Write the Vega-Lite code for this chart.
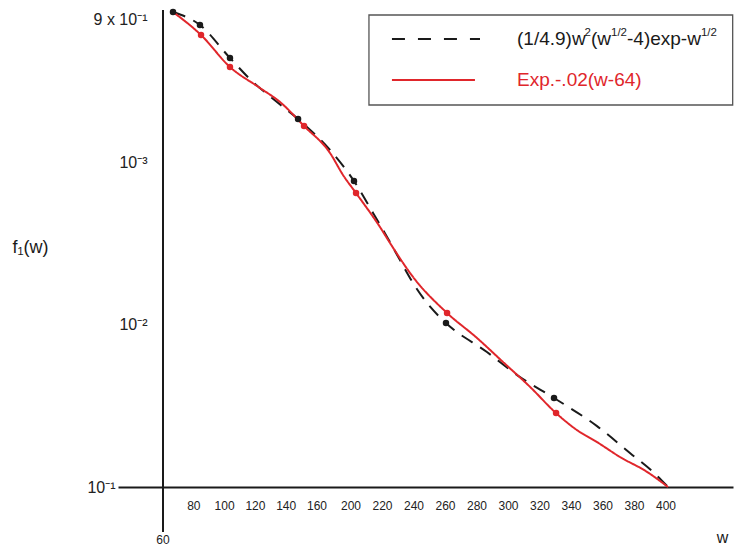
{
  "$schema": "https://vega.github.io/schema/vega-lite/v6.json",
  "width": 615,
  "height": 477,
  "autosize": {"type": "none"},
  "padding": {"left": 118, "top": 10, "right": 2, "bottom": 61},
  "background": "white",
  "config": {"view": {"stroke": null}, "font": "Liberation Sans", "axis": {"grid": false, "labelOverlap": false, "labelFlush": false, "labelBound": false}},
  "datasets": {
    "curves": [
      {"series": "dashed", "w": 66.5, "f": 0.8377, "dot": true},
      {"series": "dashed", "w": 84.0, "f": 0.6968, "dot": true},
      {"series": "dashed", "w": 103.5, "f": 0.4365, "dot": true},
      {"series": "dashed", "w": 118.4, "f": 0.3107, "dot": false},
      {"series": "dashed", "w": 130.8, "f": 0.2476, "dot": false},
      {"series": "dashed", "w": 147.7, "f": 0.1839, "dot": true},
      {"series": "dashed", "w": 175.3, "f": 0.1185, "dot": false},
      {"series": "dashed", "w": 201.9, "f": 0.0764, "dot": true},
      {"series": "dashed", "w": 214.0, "f": 0.0486, "dot": false},
      {"series": "dashed", "w": 222.9, "f": 0.0346, "dot": false},
      {"series": "dashed", "w": 231.1, "f": 0.0249, "dot": false},
      {"series": "dashed", "w": 239.4, "f": 0.0180, "dot": false},
      {"series": "dashed", "w": 248.3, "f": 0.01356, "dot": false},
      {"series": "dashed", "w": 260.3, "f": 0.01021, "dot": true},
      {"series": "dashed", "w": 286.3, "f": 0.00677, "dot": false},
      {"series": "dashed", "w": 307.3, "f": 0.00475, "dot": false},
      {"series": "dashed", "w": 328.9, "f": 0.00353, "dot": true},
      {"series": "dashed", "w": 356.2, "f": 0.00237, "dot": false},
      {"series": "dashed", "w": 377.1, "f": 0.00162, "dot": false},
      {"series": "dashed", "w": 391.7, "f": 0.00124, "dot": false},
      {"series": "dashed", "w": 401.3, "f": 0.001, "dot": false},
      {"series": "exp", "w": 66.5, "f": 0.8377, "dot": false},
      {"series": "exp", "w": 84.7, "f": 0.6046, "dot": true},
      {"series": "exp", "w": 103.5, "f": 0.3842, "dot": true},
      {"series": "exp", "w": 123.0, "f": 0.2854, "dot": false},
      {"series": "exp", "w": 136.0, "f": 0.2340, "dot": false},
      {"series": "exp", "w": 151.6, "f": 0.1665, "dot": true},
      {"series": "exp", "w": 175.3, "f": 0.1136, "dot": false},
      {"series": "exp", "w": 190.6, "f": 0.0832, "dot": false},
      {"series": "exp", "w": 203.2, "f": 0.0644, "dot": true},
      {"series": "exp", "w": 218.4, "f": 0.0398, "dot": false},
      {"series": "exp", "w": 224.8, "f": 0.0317, "dot": false},
      {"series": "exp", "w": 239.4, "f": 0.0196, "dot": false},
      {"series": "exp", "w": 261.0, "f": 0.01177, "dot": true},
      {"series": "exp", "w": 280.0, "f": 0.00826, "dot": false},
      {"series": "exp", "w": 296.5, "f": 0.00588, "dot": false},
      {"series": "exp", "w": 313.7, "f": 0.00413, "dot": false},
      {"series": "exp", "w": 330.2, "f": 0.00285, "dot": true},
      {"series": "exp", "w": 343.5, "f": 0.00224, "dot": false},
      {"series": "exp", "w": 356.2, "f": 0.00189, "dot": false},
      {"series": "exp", "w": 370.8, "f": 0.00153, "dot": false},
      {"series": "exp", "w": 387.9, "f": 0.00124, "dot": false},
      {"series": "exp", "w": 401.3, "f": 0.001, "dot": false}
    ],
    "xticks": [
      {"w": 80}, {"w": 100}, {"w": 120}, {"w": 140}, {"w": 160}, {"w": 200}, {"w": 220}, {"w": 240},
      {"w": 260}, {"w": 280}, {"w": 300}, {"w": 320}, {"w": 340}, {"w": 360}, {"w": 380}, {"w": 400}
    ],
    "one": [{}]
  },
  "layer": [
    {
      "data": {"name": "curves"},
      "mark": {"type": "line", "interpolate": "monotone", "strokeWidth": 2},
      "encoding": {
        "x": {
          "field": "w", "type": "quantitative",
          "scale": {"domain": [30.8, 60, 160, 200, 400, 442.5], "range": [0, 45, 199, 233, 548, 615], "nice": false, "zero": false},
          "axis": {
            "title": "w", "titleX": 604, "titleY": 50, "titleAlign": "center", "titleBaseline": "middle",
            "titleFontSize": 16, "titleFontWeight": "normal", "titleColor": "#1a1a1a", "titleFont": "Liberation Sans",
            "labels": false,
            "domain": true, "domainColor": "#1a1a1a", "domainWidth": 2,
            "ticks": false, "tickSize": 0
          }
        },
        "y": {
          "field": "f", "type": "quantitative",
          "scale": {"type": "log", "domain": [0.001, 0.8619], "nice": false},
          "axis": {
            "title": "f₁(w)", "titleAngle": 0, "titleX": -106, "titleY": 237, "titleAlign": "left", "titleBaseline": "middle",
            "titleFontSize": 18, "titleFontWeight": "normal", "titleColor": "#1a1a1a", "titleFont": "Liberation Sans",
            "values": [0.75, 0.1, 0.01, 0.001],
            "labelExpr": "datum.value > 0.5 ? '9 x 10⁻¹' : datum.value > 0.05 ? '10⁻³' : datum.value > 0.005 ? '10⁻²' : '10⁻¹'",
            "domain": false, "ticks": false, "tickSize": 0,
            "labelFontSize": 16, "labelColor": "#222", "labelFont": "Liberation Sans",
            "labelAlign": "right", "labelBaseline": "middle",
            "labelPadding": {"condition": {"test": "datum.value < 0.002", "value": 3}, "value": -29},
            "labelOverlap": false, "labelFlush": false, "labelBound": false
          }
        },
        "detail": {"field": "series"},
        "color": {"field": "series", "type": "nominal", "scale": {"domain": ["dashed", "exp"], "range": ["#1a1a1a", "#e0262b"]}, "legend": null},
        "strokeDash": {"field": "series", "type": "nominal", "scale": {"domain": ["dashed", "exp"], "range": [[13, 9], [1, 0]]}, "legend": null},
        "order": {"field": "w"}
      }
    },
    {
      "data": {"name": "curves"},
      "transform": [{"filter": "datum.dot"}],
      "mark": {"type": "circle", "size": 42, "opacity": 1},
      "encoding": {
        "x": {"field": "w", "type": "quantitative"},
        "y": {"field": "f", "type": "quantitative"},
        "color": {"field": "series", "type": "nominal", "legend": null}
      }
    },
    {
      "data": {"name": "xticks"},
      "mark": {"type": "text", "align": "center", "baseline": "middle", "fontSize": 12, "font": "Liberation Sans", "color": "#222"},
      "encoding": {
        "x": {"field": "w", "type": "quantitative"},
        "y": {"datum": 0.000763},
        "text": {"field": "w", "type": "quantitative"}
      }
    },
    {
      "data": {"name": "one"},
      "mark": {"type": "text", "align": "center", "baseline": "middle", "fontSize": 12, "font": "Liberation Sans", "color": "#222"},
      "encoding": {
        "x": {"datum": 60},
        "y": {"datum": 0.000472},
        "text": {"value": "60"}
      }
    },
    {
      "data": {"name": "one"},
      "mark": {"type": "rule", "color": "#1a1a1a", "strokeWidth": 2},
      "encoding": {
        "x": {"datum": 60},
        "y": {"datum": 0.8619},
        "y2": {"datum": 0.000528}
      }
    },
    {
      "data": {"name": "one"},
      "mark": {"type": "rect", "fill": "white", "stroke": "#555", "strokeWidth": 1.3},
      "encoding": {
        "x": {"datum": 211.4},
        "x2": {"datum": 442.3},
        "y": {"datum": 0.8027},
        "y2": {"datum": 0.2243}
      }
    },
    {
      "data": {"name": "one"},
      "mark": {"type": "rule", "color": "#1a1a1a", "strokeWidth": 2, "strokeDash": [13, 13]},
      "encoding": {
        "x": {"datum": 226.0},
        "x2": {"datum": 281.9},
        "y": {"datum": 0.5712}
      }
    },
    {
      "data": {"name": "one"},
      "mark": {"type": "rule", "color": "#e0262b", "strokeWidth": 2},
      "encoding": {
        "x": {"datum": 226.0},
        "x2": {"datum": 278.7},
        "y": {"datum": 0.3196}
      }
    },
    {
      "data": {"name": "one"},
      "mark": {"type": "text", "align": "left", "baseline": "middle", "fontSize": 19, "font": "Liberation Sans", "color": "#1a1a1a"},
      "encoding": {"x": {"datum": 305.4}, "y": {"datum": 0.5712}, "text": {"value": "(1/4.9)w"}}
    },
    {
      "data": {"name": "one"},
      "mark": {"type": "text", "align": "left", "baseline": "middle", "fontSize": 11.5, "font": "Liberation Sans", "color": "#1a1a1a", "dx": 67.6, "dy": -6},
      "encoding": {"x": {"datum": 305.4}, "y": {"datum": 0.5712}, "text": {"value": "2"}}
    },
    {
      "data": {"name": "one"},
      "mark": {"type": "text", "align": "left", "baseline": "middle", "fontSize": 19, "font": "Liberation Sans", "color": "#1a1a1a", "dx": 74.0},
      "encoding": {"x": {"datum": 305.4}, "y": {"datum": 0.5712}, "text": {"value": "(w"}}
    },
    {
      "data": {"name": "one"},
      "mark": {"type": "text", "align": "left", "baseline": "middle", "fontSize": 11.5, "font": "Liberation Sans", "color": "#1a1a1a", "dx": 94.0, "dy": -6},
      "encoding": {"x": {"datum": 305.4}, "y": {"datum": 0.5712}, "text": {"value": "1/2"}}
    },
    {
      "data": {"name": "one"},
      "mark": {"type": "text", "align": "left", "baseline": "middle", "fontSize": 19, "font": "Liberation Sans", "color": "#1a1a1a", "dx": 110.0},
      "encoding": {"x": {"datum": 305.4}, "y": {"datum": 0.5712}, "text": {"value": "-4)exp-w"}}
    },
    {
      "data": {"name": "one"},
      "mark": {"type": "text", "align": "left", "baseline": "middle", "fontSize": 11.5, "font": "Liberation Sans", "color": "#1a1a1a", "dx": 183.9, "dy": -6},
      "encoding": {"x": {"datum": 305.4}, "y": {"datum": 0.5712}, "text": {"value": "1/2"}}
    },
    {
      "data": {"name": "one"},
      "mark": {"type": "text", "align": "left", "baseline": "middle", "fontSize": 19, "font": "Liberation Sans", "color": "#e0262b"},
      "encoding": {"x": {"datum": 305.4}, "y": {"datum": 0.3196}, "text": {"value": "Exp.-.02(w-64)"}}
    }
  ]
}
